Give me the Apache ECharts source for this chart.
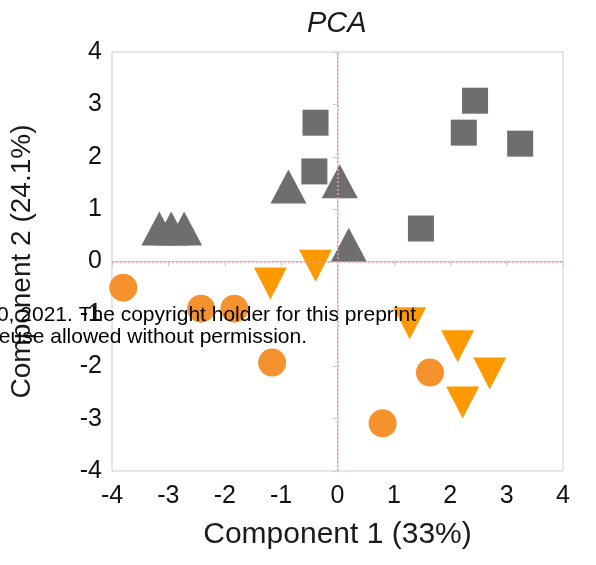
<!DOCTYPE html>
<html>
<head>
<meta charset="utf-8">
<script src="https://cdn.jsdelivr.net/npm/echarts@6/dist/echarts.min.js"></script>
<style>html,body{margin:0;padding:0;background:#fff;}#c{width:596px;height:565px;}</style>
</head>
<body>
<div id="c"></div>
<script>
// Gray squares
const squareX = [-0.39, -0.41, 2.44, 2.24, 3.24, 1.48];
const squareY = [2.65, 1.72, 3.07, 2.46, 2.25, 0.63];
// Gray up-triangles
const triUpX = [-3.16, -2.95, -2.72, -0.87, 0.04, 0.20];
const triUpY = [0.63, 0.63, 0.63, 1.43, 1.53, 0.32];
// Orange down-triangles
const triDownX = [-1.19, -0.39, 1.28, 2.13, 2.70, 2.22];
const triDownY = [-0.42, -0.08, -1.18, -1.62, -2.14, -2.69];
// Orange circles
const circleX = [-3.80, -2.42, -1.83, -1.16, 1.64, 0.80];
const circleY = [-0.50, -0.90, -0.90, -1.93, -2.12, -3.09];

const xTicks = [-4, -3, -2, -1, 0, 1, 2, 3, 4];
const yTicks = [-4, -3, -2, -1, 0, 1, 2, 3, 4];

const zip = (a, b) => a.map((v, i) => [v, b[i]]);
const FONT = 'Liberation Sans, Arial, sans-serif';

const chart = echarts.init(document.getElementById('c'), null, {renderer: 'canvas'});
chart.setOption({
  animation: false,
  backgroundColor: '#ffffff',
  textStyle: {fontFamily: FONT},
  title: {
    text: 'PCA', left: 302, top: 4,
    textStyle: {fontFamily: FONT, fontStyle: 'italic', fontWeight: 'normal', fontSize: 29, color: '#1a1a1a'}
  },
  grid: {left: 112, right: 33, top: 52, bottom: 94, show: true, borderColor: '#cccccc', borderWidth: 1},
  xAxis: {
    type: 'value', min: xTicks[0], max: xTicks[xTicks.length - 1], interval: 1,
    name: 'Component 1 (33%)', nameLocation: 'middle', nameGap: 49,
    nameTextStyle: {fontFamily: FONT, fontSize: 30, color: '#1a1a1a'},
    axisLine: {show: true, lineStyle: {color: '#cccccc'}},
    axisTick: {show: true, length: 5, lineStyle: {color: '#cccccc'}},
    splitLine: {show: false},
    axisLabel: {fontSize: 25, color: '#111', margin: 13, fontFamily: FONT}
  },
  yAxis: {
    type: 'value', min: yTicks[0], max: yTicks[yTicks.length - 1], interval: 1,
    name: 'Component 2 (24.1%)', nameLocation: 'middle', nameGap: 76, nameRotate: 90,
    nameTextStyle: {fontFamily: FONT, fontSize: 28, color: '#1a1a1a'},
    axisLine: {show: true, lineStyle: {color: '#cccccc'}},
    axisTick: {show: true, length: 5, lineStyle: {color: '#cccccc'}},
    splitLine: {show: false},
    axisLabel: {fontSize: 25, color: '#111', margin: 10, fontFamily: FONT}
  },
  series: [
    {
      type: 'scatter', data: zip(squareX, squareY), symbol: 'rect', symbolSize: 26,
      itemStyle: {color: '#6e6e6e', opacity: 1},
      markLine: {
        silent: true, symbol: 'none', label: {show: false},
        lineStyle: {color: '#f29aa6', type: [2, 2], width: 1.5},
        data: [{xAxis: 0}, {yAxis: 0}]
      },
      z: 3
    },
    {
      type: 'scatter', data: zip(triUpX, triUpY), symbol: 'triangle', symbolSize: [36, 34],
      itemStyle: {color: '#6e6e6e', opacity: 1}, z: 3
    },
    {
      type: 'scatter', data: zip(triDownX, triDownY), symbol: 'triangle', symbolRotate: 180, symbolSize: [33, 32],
      itemStyle: {color: '#ff9900', opacity: 1}, z: 3
    },
    {
      type: 'scatter', data: zip(circleX, circleY), symbol: 'circle', symbolSize: 28,
      itemStyle: {color: '#f6922e', opacity: 1}, z: 3
    }
  ],
  graphic: [
    {type: 'text', z: 100, right: 596 - 416, top: 305,
     style: {text: '0, 2021. The copyright holder for this preprint', font: '21px ' + FONT, fill: '#000'}},
    {type: 'text', z: 100, right: 596 - 307, top: 327,
     style: {text: 'euse allowed without permission.', font: '21px ' + FONT, fill: '#000'}}
  ]
});
</script>
</body>
</html>
